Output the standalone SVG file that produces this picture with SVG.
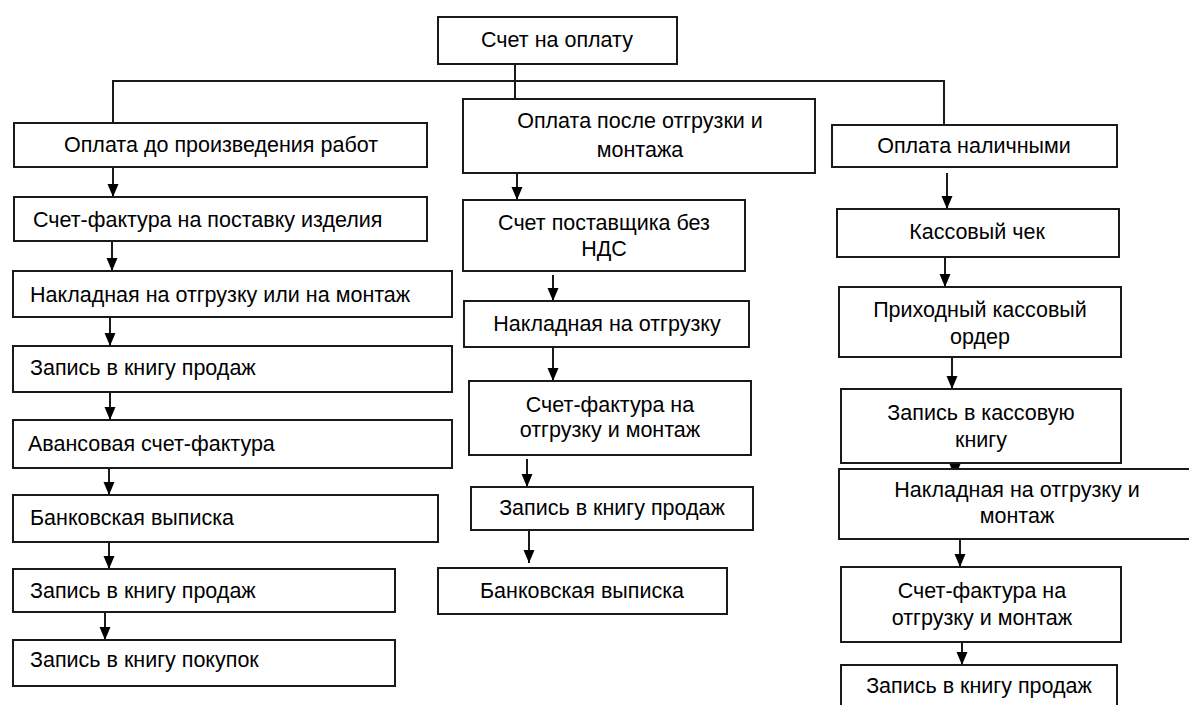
<svg xmlns="http://www.w3.org/2000/svg" width="1189" height="705" viewBox="0 0 1189 705">
<defs>
<style>
.b{fill:#fff;stroke:#1a1a1a;stroke-width:2}
.t{font-family:'Liberation Sans',Arial,sans-serif;font-size:21.5px;fill:#000}
.c{text-anchor:middle}
.l{fill:none;stroke:#1a1a1a;stroke-width:2}
</style>
<marker id="a" markerUnits="userSpaceOnUse" markerWidth="14" markerHeight="12" refX="13" refY="6" orient="auto" viewBox="0 0 14 12">
<path d="M0,0.5 L13,6 L0,11.5 Z" fill="#000"/>
</marker>
</defs>
<rect width="1189" height="705" fill="#fff"/>
<g id="connectors">
<path class="l" d="M515,64 V99"/>
<path class="l" d="M113,123 V81 H944 V125"/>
<path class="l" marker-end="url(#a)" d="M113,167 V197"/>
<path class="l" marker-end="url(#a)" d="M112,241 V271"/>
<path class="l" marker-end="url(#a)" d="M110,317 V346"/>
<path class="l" marker-end="url(#a)" d="M110,392 V420"/>
<path class="l" marker-end="url(#a)" d="M109,468 V495"/>
<path class="l" marker-end="url(#a)" d="M109,542 V569"/>
<path class="l" marker-end="url(#a)" d="M105,612 V640"/>
<path class="l" marker-end="url(#a)" d="M517,173 V200"/>
<path class="l" marker-end="url(#a)" d="M553,275 V301"/>
<path class="l" marker-end="url(#a)" d="M553,347 V381"/>
<path class="l" marker-end="url(#a)" d="M527,459 V487"/>
<path class="l" marker-end="url(#a)" d="M529,530 V563"/>
<path class="l" marker-end="url(#a)" d="M947,173 V209"/>
<path class="l" marker-end="url(#a)" d="M945,257 V287"/>
<path class="l" marker-end="url(#a)" d="M952,357 V389"/>
<path class="l" marker-end="url(#a)" d="M955,463 V477"/>
<path class="l" marker-end="url(#a)" d="M960,539 V567"/>
<path class="l" marker-end="url(#a)" d="M962,642 V665"/>
</g>
<g id="n0"><rect class="b" x="438" y="17" width="239" height="47"/><text class="t c" x="557" y="47">Счет на оплату</text></g>
<g id="l1"><rect class="b" x="14" y="123" width="413" height="44"/><text class="t c" x="221" y="152">Оплата до произведения работ</text></g>
<g id="l2"><rect class="b" x="14" y="197" width="413" height="44"/><text class="t" x="33" y="227">Счет-фактура на поставку изделия</text></g>
<g id="l3"><rect class="b" x="13" y="271" width="439" height="46"/><text class="t" x="30" y="302">Накладная на отгрузку или на монтаж</text></g>
<g id="l4"><rect class="b" x="13" y="346" width="439" height="46"/><text class="t" x="30" y="375">Запись в книгу продаж</text></g>
<g id="l5"><rect class="b" x="13" y="420" width="439" height="48"/><text class="t" x="28" y="451">Авансовая счет-фактура</text></g>
<g id="l6"><rect class="b" x="13" y="495" width="425" height="47"/><text class="t" x="30" y="525">Банковская выписка</text></g>
<g id="l7"><rect class="b" x="13" y="569" width="382" height="43"/><text class="t" x="30" y="598">Запись в книгу продаж</text></g>
<g id="l8"><rect class="b" x="13" y="640" width="382" height="46"/><text class="t" x="30" y="667">Запись в книгу покупок</text></g>
<g id="m1"><rect class="b" x="463" y="99" width="352" height="74"/><text class="t c" x="640" y="128">Оплата после отгрузки и</text><text class="t c" x="640" y="157">монтажа</text></g>
<g id="m2"><rect class="b" x="463" y="200" width="282" height="71"/><text class="t c" x="604" y="230">Счет поставщика без</text><text class="t c" x="604" y="256">НДС</text></g>
<g id="m3"><rect class="b" x="464" y="301" width="285" height="46"/><text class="t c" x="607" y="331">Накладная на отгрузку</text></g>
<g id="m4"><rect class="b" x="469" y="381" width="282" height="74"/><text class="t c" x="610" y="412">Счет-фактура на</text><text class="t c" x="610" y="437">отгрузку и монтаж</text></g>
<g id="m5"><rect class="b" x="471" y="487" width="282" height="43"/><text class="t c" x="612" y="515">Запись в книгу продаж</text></g>
<g id="m6"><rect class="b" x="438" y="568" width="289" height="46"/><text class="t c" x="582" y="598">Банковская выписка</text></g>
<g id="r1"><rect class="b" x="832" y="125" width="285" height="42"/><text class="t c" x="974" y="153">Оплата наличными</text></g>
<g id="r2"><rect class="b" x="837" y="209" width="282" height="48"/><text class="t c" x="977" y="239">Кассовый чек</text></g>
<g id="r3"><rect class="b" x="839" y="287" width="282" height="70"/><text class="t c" x="980" y="317">Приходный кассовый</text><text class="t c" x="980" y="344">ордер</text></g>
<g id="r4"><rect class="b" x="841" y="389" width="280" height="74"/><text class="t c" x="981" y="420">Запись в кассовую</text><text class="t c" x="981" y="447">книгу</text></g>
<g id="r5"><rect class="b" x="839" y="469" width="356" height="70"/><text class="t c" x="1017" y="497">Накладная на отгрузку и</text><text class="t c" x="1017" y="523">монтаж</text></g>
<g id="r6"><rect class="b" x="841" y="567" width="280" height="75"/><text class="t c" x="982" y="598">Счет-фактура на</text><text class="t c" x="982" y="625">отгрузку и монтаж</text></g>
<g id="r7"><rect class="b" x="841" y="665" width="276" height="50"/><text class="t c" x="979" y="693">Запись в книгу продаж</text></g>
</svg>
